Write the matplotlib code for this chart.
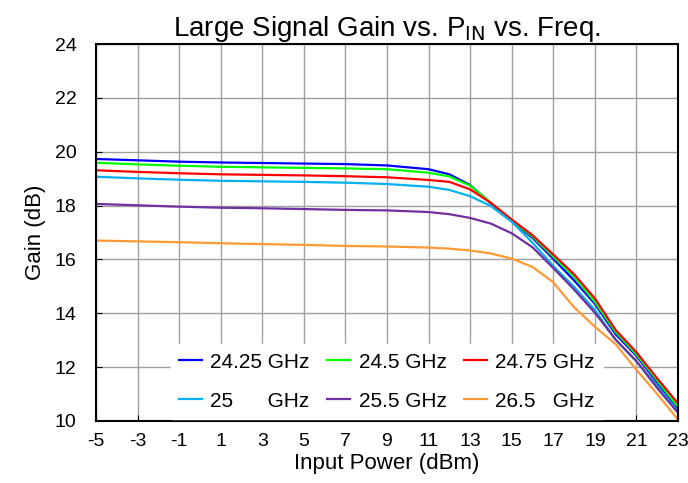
import matplotlib.pyplot as plt

plt.rcParams['font.family'] = ['Liberation Sans', 'DejaVu Sans']
plt.rcParams['axes.unicode_minus'] = False

pin = [-5, -3, -1, 1, 3, 5, 7, 9, 11, 12, 13, 14, 15, 16, 17, 18, 19, 20, 21, 22, 23]

gain_24_25 = [19.73, 19.68, 19.63, 19.60, 19.58, 19.56, 19.54, 19.49, 19.35, 19.16, 18.76, 18.08, 17.42, 16.80, 16.02, 15.22, 14.35, 13.22, 12.42, 11.42, 10.45]
gain_24_5 = [19.59, 19.53, 19.48, 19.44, 19.42, 19.40, 19.38, 19.35, 19.22, 19.08, 18.74, 18.10, 17.45, 16.85, 16.10, 15.35, 14.42, 13.30, 12.47, 11.50, 10.52]
gain_24_75 = [19.31, 19.25, 19.20, 19.16, 19.14, 19.12, 19.09, 19.05, 18.95, 18.88, 18.60, 18.10, 17.48, 16.90, 16.18, 15.45, 14.55, 13.38, 12.55, 11.58, 10.65]
gain_25 = [19.07, 19.01, 18.96, 18.92, 18.90, 18.88, 18.85, 18.80, 18.70, 18.58, 18.35, 17.98, 17.40, 16.62, 15.75, 14.98, 14.12, 13.02, 12.22, 11.30, 10.35]
gain_25_5 = [18.06, 18.01, 17.96, 17.92, 17.90, 17.87, 17.84, 17.82, 17.76, 17.68, 17.54, 17.33, 16.97, 16.45, 15.68, 14.88, 14.02, 13.02, 12.22, 11.22, 10.30]
gain_26_5 = [16.70, 16.67, 16.64, 16.60, 16.57, 16.54, 16.50, 16.48, 16.44, 16.40, 16.33, 16.22, 16.03, 15.72, 15.15, 14.22, 13.50, 12.85, 11.90, 11.00, 10.05]

series = [
    ("24.25 GHz", gain_24_25, "#0000ff"),
    ("24.5 GHz", gain_24_5, "#00ff00"),
    ("24.75 GHz", gain_24_75, "#ff0000"),
    ("25      GHz", gain_25, "#00b0f0"),
    ("25.5 GHz", gain_25_5, "#7030a0"),
    ("26.5   GHz", gain_26_5, "#ff9933"),
]

fig = plt.figure(figsize=(6.88, 4.83), dpi=100)
ax = fig.add_axes([0.1395, 0.1284, 0.846, 0.7805])

lines = []
for label, vals, color in series:
    ln, = ax.plot(pin, vals, color=color, linewidth=1.6, label=label)
    lines.append(ln)

ax.set_xlim(-5, 23)
ax.set_ylim(10, 24)
ax.set_xticks(range(-5, 24, 2))
ax.set_yticks(range(10, 25, 2))
ax.grid(True, color="#a0a0a0", linewidth=1.0)
ax.tick_params(direction="in", labelsize=14, length=4)
ax.tick_params(axis="y", pad=14)
ax.tick_params(axis="x", pad=9)
for sp in ax.spines.values():
    sp.set_linewidth(1.5)
    sp.set_color("black")

ax.set_title("Large Signal Gain vs. P$_{\\mathrm{IN}}$ vs. Freq.", fontsize=20, pad=3)
ax.set_xlabel("Input Power (dBm)", fontsize=16, labelpad=2)
ax.set_ylabel("Gain (dB)", fontsize=16, labelpad=6)

# matplotlib fills legend columns first, so reorder to read row by row
order = [0, 3, 1, 4, 2, 5]
leg = ax.legend([lines[i] for i in order], [series[i][0] for i in order],
                ncol=3, loc="lower center", bbox_to_anchor=(0.5, 0.0), fontsize=15,
                frameon=True, fancybox=False, framealpha=1.0, edgecolor="white",
                handlelength=1.1, columnspacing=0.85, handletextpad=0.4,
                labelspacing=0.95, borderaxespad=0.1)

fig.savefig("out.png", dpi=100)
